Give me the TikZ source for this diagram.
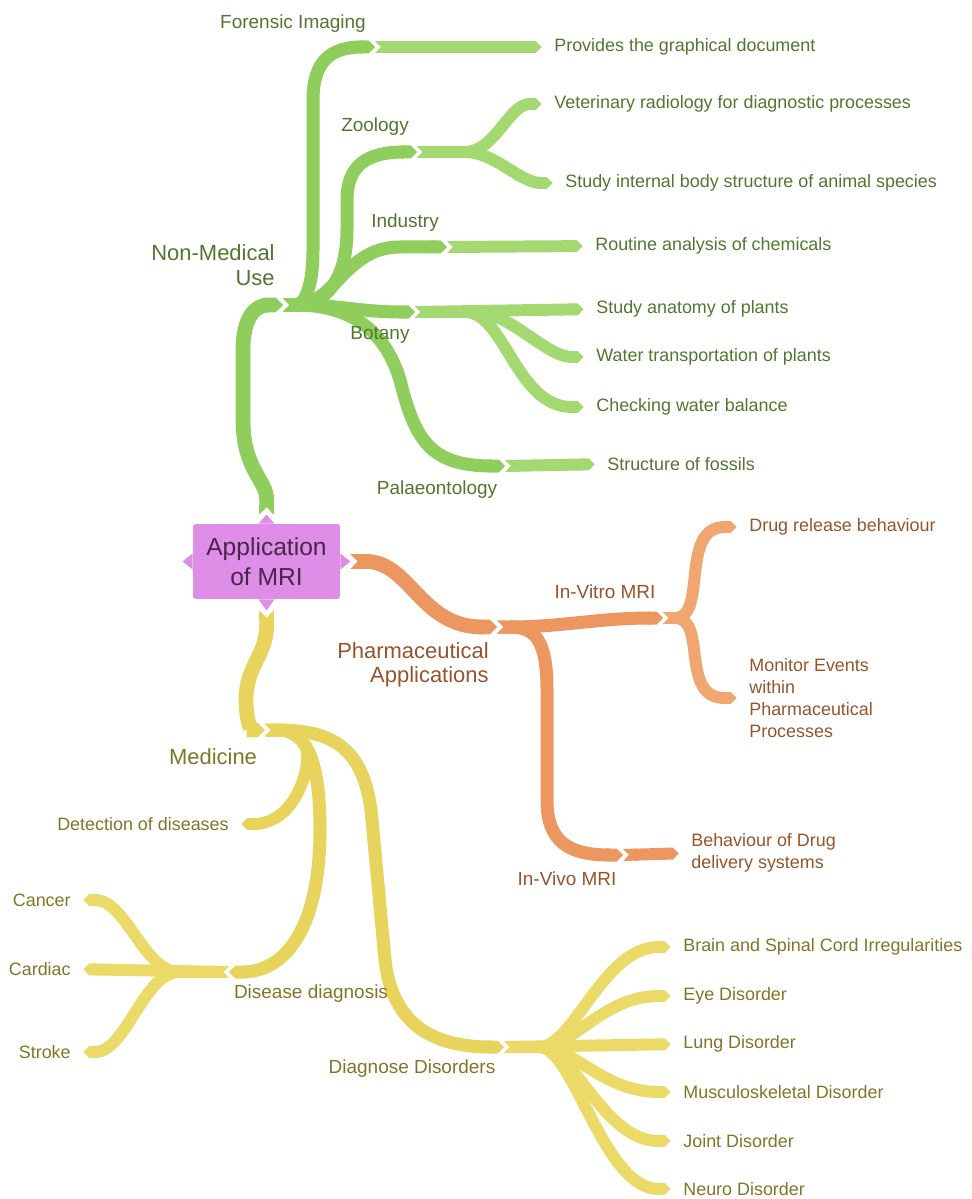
\documentclass[tikz,border=0pt]{standalone}
\usepackage{fontspec}
\setmainfont{Liberation Sans}
\usetikzlibrary{arrows.meta}
\definecolor{nmline}{RGB}{143,205,92}
\definecolor{nmleaf}{RGB}{163,217,112}
\definecolor{nmtext}{RGB}{82,118,48}
\definecolor{phline}{RGB}{236,150,96}
\definecolor{phleaf}{RGB}{240,166,112}
\definecolor{phtext}{RGB}{150,84,44}
\definecolor{mdline}{RGB}{232,212,92}
\definecolor{mdleaf}{RGB}{236,218,104}
\definecolor{mdtext}{RGB}{128,118,40}
\definecolor{mrifill}{RGB}{222,142,230}
\definecolor{mritext}{RGB}{72,38,74}

\begin{document}
\begin{tikzpicture}[x=0.02cm,y=-0.02cm,
  br/.style={line width=7.4pt,{Triangle Cap[reversed]}-{Triangle Cap}},
  trunk/.style={br,line width=8.4pt},
  leaf/.style={br,line width=6.8pt,shorten >=7pt},
  leaftxt/.style={font=\fontsize{10.2}{12.5}\selectfont,inner sep=0pt,anchor=west,align=left},
  subtxt/.style={font=\fontsize{10.8}{13}\selectfont,inner sep=0pt},
  maintxt/.style={font=\fontsize{12.5}{14}\selectfont,inner sep=0pt,align=right,anchor=east}]
\useasboundingbox (0,0) rectangle (971,1199);
\node[fill=mrifill,text=mritext,rounded corners=1.5pt,minimum width=2.94cm,minimum height=1.5cm,align=center,font=\fontsize{14}{17}\selectfont] (app) at (266.5,561.5) {Application\\of MRI};
\fill[mrifill] (app.north) ++(-8,0) -- ++(8,-9) -- ++(8,9) -- cycle;
\fill[mrifill] (app.south) ++(-8,0) -- ++(8,11) -- ++(8,-11) -- cycle;
\fill[mrifill] (app.west) ++(0,-8) -- ++(-10,8) -- ++(10,8) -- cycle;
\fill[mrifill] (app.east) ++(0,-8) -- ++(10,8) -- ++(-10,8) -- cycle;
\path (app.north) ++(0,-9) coordinate (appN);
\path (app.south) ++(0,11) coordinate (appS);
\path (app.east) ++(10,0) coordinate (appE);

\coordinate (nm) at (283,305);
\coordinate (fi) at (375,47);
\coordinate (zo) at (417,152);
\coordinate (ind) at (447,247);
\coordinate (bot) at (415,312);
\coordinate (pal) at (505,466);
\coordinate (pa) at (497,627);
\coordinate (vitro) at (663,618);
\coordinate (vivo) at (623,855);
\coordinate (med) at (265,730);
\coordinate (dd) at (229,972);
\coordinate (dis) at (504,1047);

\node[leaftxt,text=nmtext] (prov) at (554,47) {Provides the graphical document};
\node[leaftxt,text=nmtext] (vet) at (554,104) {Veterinary radiology for diagnostic processes};
\node[leaftxt,text=nmtext] (stud) at (565,183) {Study internal body structure of animal species};
\node[leaftxt,text=nmtext] (rout) at (595,246) {Routine analysis of chemicals};
\node[leaftxt,text=nmtext] (anat) at (596,309) {Study anatomy of plants};
\node[leaftxt,text=nmtext] (water) at (596,357) {Water transportation of plants};
\node[leaftxt,text=nmtext] (check) at (596,407) {Checking water balance};
\node[leaftxt,text=nmtext] (foss) at (607,464) {Structure of fossils};
\node[leaftxt,text=phtext] (drug) at (749,527) {Drug release behaviour};
\node[leaftxt,text=phtext] (mon) at (749,698) {Monitor Events\\within\\Pharmaceutical\\Processes};
\node[leaftxt,text=phtext] (beh) at (691,853) {Behaviour of Drug\\delivery systems};
\node[leaftxt,text=mdtext,anchor=east] (det) at (229,824) {Detection of diseases};
\node[leaftxt,text=mdtext,anchor=east] (cancer) at (71,900) {Cancer};
\node[leaftxt,text=mdtext,anchor=east] (cardiac) at (71,969) {Cardiac};
\node[leaftxt,text=mdtext,anchor=east] (stroke) at (71,1052) {Stroke};
\node[leaftxt,text=mdtext] (brain) at (683,947) {Brain and Spinal Cord Irregularities};
\node[leaftxt,text=mdtext] (eye) at (683,996) {Eye Disorder};
\node[leaftxt,text=mdtext] (lung) at (683,1044) {Lung Disorder};
\node[leaftxt,text=mdtext] (musc) at (683,1092) {Musculoskeletal Disorder};
\node[leaftxt,text=mdtext] (joint) at (683,1141) {Joint Disorder};
\node[leaftxt,text=mdtext] (neuro) at (683,1189) {Neuro Disorder};

\draw[trunk,nmline] (appN) .. controls (267,480) and (243,470) .. (243,420) -- (243,350) .. controls (243,316) and (256,305) .. (nm);
\draw[br,nmline] (nm) .. controls (305,305) and (313,285) .. (313,250) -- (313,100) .. controls (313,62) and (330,47) .. (fi);
\draw[br,nmline] (nm) .. controls (325,305) and (347,280) .. (347,230) -- (347,200) .. controls (347,167) and (365,152) .. (zo);
\draw[br,nmline] (nm) .. controls (335,305) and (345,247) .. (400,247) -- (ind);
\draw[br,nmline] (nm) .. controls (340,305) and (360,312) .. (bot);
\draw[br,nmline] (nm) .. controls (350,305) and (385,330) .. (400,380) .. controls (415,440) and (430,466) .. (pal);
\draw[leaf,nmleaf] (fi) -- (prov.west);
\draw[leaf,nmleaf] (zo) -- ++(48,0) .. controls +(30,0) and +(-45,0) .. (vet.west);
\draw[leaf,nmleaf] (zo) -- ++(48,0) .. controls +(30,0) and +(-45,0) .. (stud.west);
\draw[leaf,nmleaf] (ind) -- (rout.west);
\draw[leaf,nmleaf] (bot) -- (anat.west);
\draw[leaf,nmleaf] (bot) -- ++(60,0) .. controls +(35,0) and +(-50,0) .. (water.west);
\draw[leaf,nmleaf] (bot) -- ++(50,0) .. controls +(40,0) and +(-80,0) .. (check.west);
\draw[leaf,nmleaf] (pal) -- (foss.west);

\draw[trunk,phline] (appE) .. controls (410,561) and (420,627) .. (pa);
\draw[br,phline] (pa) .. controls (560,627) and (600,618) .. (vitro);
\draw[br,phline] (pa) .. controls (535,627) and (547,640) .. (547,690) -- (547,800) .. controls (547,843) and (570,855) .. (vivo);
\draw[leaf,phleaf] (vitro) .. controls +(45,0) and +(-70,0) .. (drug.west);
\draw[leaf,phleaf] (vitro) .. controls +(45,0) and +(-70,0) .. (mon.west);
\draw[leaf,phline] (vivo) -- (beh.west);

\draw[trunk,mdline] (appS) .. controls (267,655) and (246,665) .. (246,700) .. controls (246,722) and (252,730) .. (med);
\draw[leaf,mdline] (med) .. controls (315,730) and (310,765) .. (300,788) .. controls (288,815) and (270,824) .. (det.east);
\draw[br,mdline] (med) .. controls (312,730) and (320,775) .. (320,830) .. controls (320,920) and (290,972) .. (dd);
\draw[br,mdline] (med) .. controls (335,730) and (366,750) .. (372,820) -- (385,960) .. controls (393,1030) and (440,1047) .. (dis);
\draw[leaf,mdleaf] (dd) -- (cardiac.east);
\draw[leaf,mdleaf] (dd) -- ++(-50,0) .. controls +(-35,0) and +(55,0) .. (cancer.east);
\draw[leaf,mdleaf] (dd) -- ++(-50,0) .. controls +(-35,0) and +(55,0) .. (stroke.east);
\draw[leaf,mdleaf] (dis) -- ++(35,0) .. controls +(35,0) and +(-80,0) .. (brain.west);
\draw[leaf,mdleaf] (dis) -- ++(35,0) .. controls +(35,0) and +(-80,0) .. (eye.west);
\draw[leaf,mdleaf] (dis) -- (lung.west);
\draw[leaf,mdleaf] (dis) -- ++(35,0) .. controls +(35,0) and +(-80,0) .. (musc.west);
\draw[leaf,mdleaf] (dis) -- ++(35,0) .. controls +(35,0) and +(-80,0) .. (joint.west);
\draw[leaf,mdleaf] (dis) -- ++(35,0) .. controls +(35,0) and +(-80,0) .. (neuro.west);

\node[maintxt,text=nmtext] (nmtxt) at (275,265) {Non-Medical\\Use};
\node[subtxt,text=nmtext] (fitxt) at (293,24) {Forensic Imaging};
\node[subtxt,text=nmtext] (zotxt) at (375,127) {Zoology};
\node[subtxt,text=nmtext] (indtxt) at (405,223) {Industry};
\node[subtxt,text=nmtext] (bottxt) at (380,335) {Botany};
\node[subtxt,text=nmtext] (paltxt) at (437,490) {Palaeontology};
\node[maintxt,text=phtext] (patxt) at (489,665) {Pharmaceutical\\Applications};
\node[subtxt,text=phtext] (vitrotxt) at (605,592) {In-Vitro MRI};
\node[subtxt,text=phtext] (vivotxt) at (567,879) {In-Vivo MRI};
\node[maintxt,text=mdtext,anchor=center] (medtxt) at (213,757) {Medicine};
\node[subtxt,text=mdtext] (ddtxt) at (311,994) {Disease diagnosis};
\node[subtxt,text=mdtext] (distxt) at (412,1069) {Diagnose Disorders};
\end{tikzpicture}
\end{document}
